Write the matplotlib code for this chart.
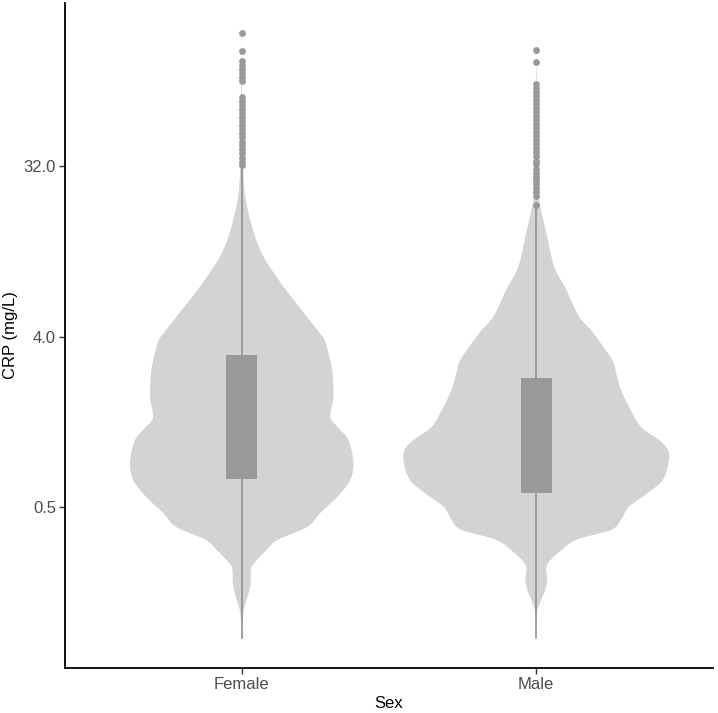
import matplotlib
matplotlib.use("Agg")
import matplotlib.pyplot as plt
from matplotlib.path import Path
from matplotlib.patches import PathPatch
from matplotlib.ticker import FixedLocator, FormatStrFormatter
import numpy as np

plt.rcParams['font.family'] = ['Liberation Sans', 'DejaVu Sans']

# groups
sexes = ["Female", "Male"]

# violin outlines: CRP value (mg/L) and relative density
female_crp = [0.101, 0.126, 0.142, 0.155, 0.175, 0.197, 0.218, 0.240, 0.261, 0.295,
              0.334, 0.392, 0.465, 0.565, 0.696, 0.867, 1.134, 1.33, 1.50, 1.92,
              2.58, 3.13, 3.86, 4.20, 6.29, 7.74, 10.6, 14.3, 21.4, 30.8, 44.5,
              72.6, 163.0]
female_dens = [0, 0.8, 2, 4, 7, 9, 9, 10, 15, 25,
               36, 66, 79, 96, 109, 112, 107, 96, 89, 92,
               91, 88, 83, 78, 52, 39, 22, 12, 4, 1.5, 0.8,
               0.5, 0]

male_crp = [0.101, 0.126, 0.139, 0.151, 0.166, 0.181, 0.205, 0.231, 0.252, 0.285,
            0.334, 0.377, 0.427, 0.500, 0.593, 0.696, 0.867, 1.004, 1.134, 1.33,
            1.70, 2.09, 2.58, 3.02, 4.20, 5.11, 7.11, 9.41, 14.3, 19.6, 23.3,
            39.4, 72.6, 132.0]
male_dens = [0, 0.5, 1, 3, 6, 9, 11, 10, 12, 22,
             40, 75, 85, 93, 112, 127, 133, 132, 123, 105,
             93, 85, 80, 76, 57, 43, 30, 18, 10, 4, 2,
             1, 0.6, 0]

# box statistics: lower whisker, Q1, Q3, upper whisker
female_box = [0.101, 0.70, 3.2, 31.5]
male_box = [0.101, 0.59, 2.42, 19.5]

# outliers above the upper whisker
female_out = [162.8, 130.6, 115.6, 110.1, 104.8, 99.8, 95.0, 90.5, 74.4, 70.9,
              67.5, 64.3, 61.2, 58.3, 55.5, 52.8, 50.3, 47.9, 45.6, 43.4, 41.4,
              39.4, 37.5, 35.7, 34.0, 32.4]
male_out = [132.2, 114.2, 87.2, 83.1, 79.1, 75.3, 71.7, 68.3, 65.0, 61.9, 59.0,
            56.2, 53.5, 50.9, 48.5, 46.2, 44.0, 41.9, 39.9, 38.0, 36.2, 34.4,
            32.8, 31.2, 29.7, 28.3, 27.0, 25.7, 24.5, 23.3, 22.2, 20.1]

y_ticks = [0.5, 4.0, 32.0]


def smooth_outline(xs, crp):
    """Bezier path through the outline points (Catmull-Rom, in log2 space)."""
    pts = np.column_stack([xs, np.log2(crp)])
    n = len(pts)
    verts = [pts[0]]
    codes = [Path.MOVETO]
    for i in range(n - 1):
        p0 = pts[max(i - 1, 0)]
        p1, p2 = pts[i], pts[i + 1]
        p3 = pts[min(i + 2, n - 1)]
        verts += [p1 + (p2 - p0) / 6, p2 - (p3 - p1) / 6, p2]
        codes += [Path.CURVE4] * 3
    verts = np.array(verts)
    verts[:, 1] = 2 ** verts[:, 1]
    return verts, codes


fig = plt.figure(figsize=(7.18, 7.13), dpi=100)
ax = fig.add_axes([0.0905, 0.0631, 0.9025, 0.9327])
ax.set_yscale('log', base=2)

violins = [(female_crp, female_dens), (male_crp, male_dens)]
boxes = [female_box, male_box]
outliers = [female_out, male_out]
dmax = max(max(female_dens), max(male_dens))

for i in range(len(sexes)):
    x = i + 1
    crp, dens = violins[i]
    half = 0.45 * np.array(dens) / dmax
    crp2 = list(crp) + list(crp[::-1])
    xs = list(x - half) + list((x + half)[::-1])
    verts, codes = smooth_outline(xs, crp2)
    ax.add_patch(PathPatch(Path(verts, codes), facecolor='#d3d3d3', lw=0, zorder=1))

    lo, q1, q3, hi = boxes[i]
    ax.plot([x, x], [lo, hi], color='#8a8a8a', lw=1.1, zorder=2)
    ax.bar(x, q3 - q1, bottom=q1, width=0.105, color='#999999', lw=0, zorder=3)
    ax.scatter([x] * len(outliers[i]), outliers[i], s=24, color='#999999',
               lw=0, zorder=4)

all_vals = female_crp + male_crp + female_out + male_out
lmin, lmax = np.log2(min(all_vals)), np.log2(max(all_vals))
pad = 0.05 * (lmax - lmin)
ax.set_ylim(2 ** (lmin - pad), 2 ** (lmax + pad))
ax.set_xlim(0.4, 2.6)

ax.yaxis.set_major_locator(FixedLocator(y_ticks))
ax.yaxis.set_major_formatter(FormatStrFormatter('%.1f'))
ax.yaxis.set_minor_locator(FixedLocator([]))
ax.set_xticks([1, 2])
ax.set_xticklabels(sexes)

ax.tick_params(labelsize=12, labelcolor='#4d4d4d', color='#333333',
               length=4, width=1.0, pad=2.5)
ax.set_xlabel("Sex", fontsize=12, color='black', labelpad=3)
ax.set_ylabel("CRP (mg/L)", fontsize=12, color='black', labelpad=4)

for side in ['top', 'right']:
    ax.spines[side].set_visible(False)
for side in ['left', 'bottom']:
    ax.spines[side].set_linewidth(1.3)
    ax.spines[side].set_color('black')

fig.savefig("out.png", dpi=100)
